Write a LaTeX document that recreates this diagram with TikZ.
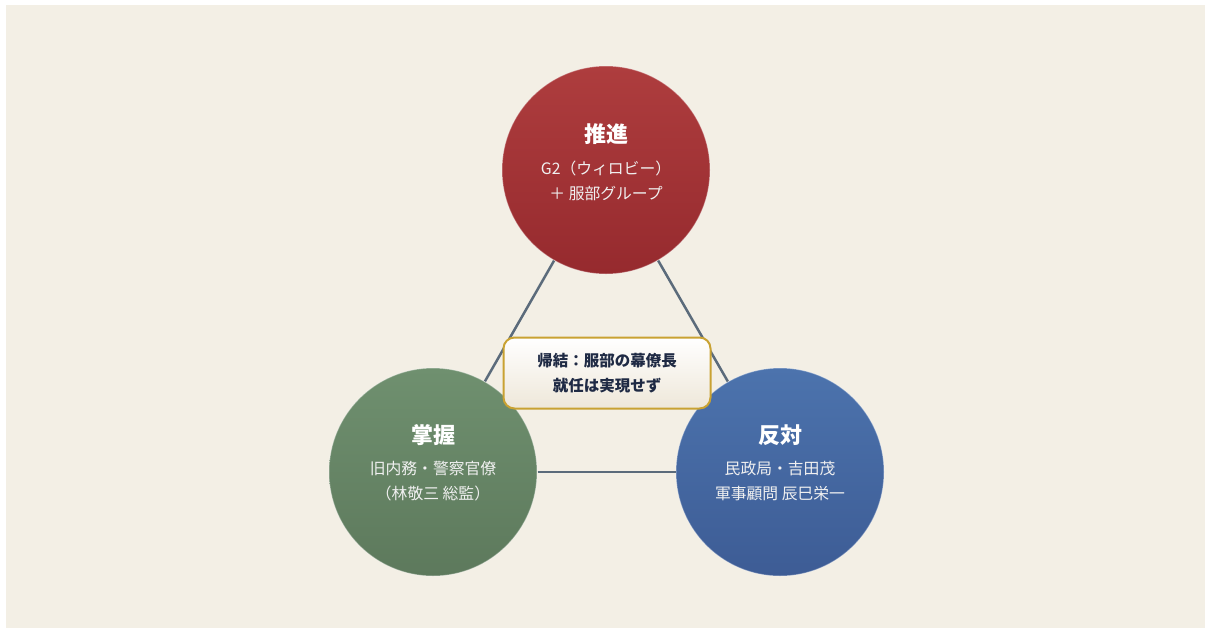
\documentclass[tikz,border=0pt]{standalone}
\usepackage{fontspec}
\setmainfont{Noto Sans CJK JP}
\usepackage{xcolor}
\usetikzlibrary{positioning}
\usetikzlibrary{calc}

\definecolor{paper}{HTML}{F3EFE5}
\definecolor{redtop}{HTML}{AE3D3E}
\definecolor{redbot}{HTML}{962A2E}
\definecolor{greentop}{HTML}{6F906F}
\definecolor{greenbot}{HTML}{5D795C}
\definecolor{bluetop}{HTML}{4C73AD}
\definecolor{bluebot}{HTML}{3D5C95}
\definecolor{linkgray}{HTML}{5B6B7B}
\definecolor{gold}{HTML}{C9A232}
\definecolor{boxbot}{HTML}{EEE7D9}
\definecolor{navytext}{HTML}{1F2A44}

\begin{document}
\begin{tikzpicture}[x=1pt,y=-1pt,
    party/.style={circle,minimum size=208pt,inner sep=0pt,draw=white,draw opacity=0.35,line width=1pt},
    title/.style={font=\bfseries\fontsize{22}{26}\selectfont,text=white},
    member/.style={font=\fontsize{15.8}{25}\selectfont,text=white!88!gray,align=center},
    link/.style={draw=linkgray,line width=2.5pt},
    outcome/.style={rectangle,rounded corners=11pt,draw=gold,line width=2pt,top color=white,bottom color=boxbot,minimum width=207pt,minimum height=71pt,align=center,font=\bfseries\fontsize{15.5}{25}\selectfont,text=navytext}]
  % background
  \fill[white] (0,0) rectangle (1207,630);
  \fill[paper] (6,5) rectangle (1205,628);
  % the three camps
  \node[party,top color=redtop,bottom color=redbot] (push) at (606,170) {};
  \node[party,top color=greentop,bottom color=greenbot] (grasp) at (433,472) {};
  \node[party,top color=bluetop,bottom color=bluebot] (oppose) at (780,472) {};
  \node[title] (pushtitle) at ($(push)+(0,-36)$) {推進};
  \node[member] (pushtext) at ($(push)+(0,11)$) {G2（ウィロビー）\\＋ 服部グループ};
  \node[title] (grasptitle) at ($(grasp)+(0,-37)$) {掌握};
  \node[member] (grasptext) at ($(grasp)+(0,9)$) {旧内務・警察官僚\\（林敬三 総監）};
  \node[title] (opposetitle) at ($(oppose)+(0,-37)$) {反対};
  \node[member] (opposetext) at ($(oppose)+(0,9)$) {民政局・吉田茂\\軍事顧問 辰巳栄一};
  % links
  \draw[link] (push) -- (grasp);
  \draw[link] (push) -- (oppose);
  \draw[link] (grasp) -- (oppose);
  % outcome
  \node[outcome] (result) at (607,373) {帰結：服部の幕僚長\\就任は実現せず};
\end{tikzpicture}
\end{document}
